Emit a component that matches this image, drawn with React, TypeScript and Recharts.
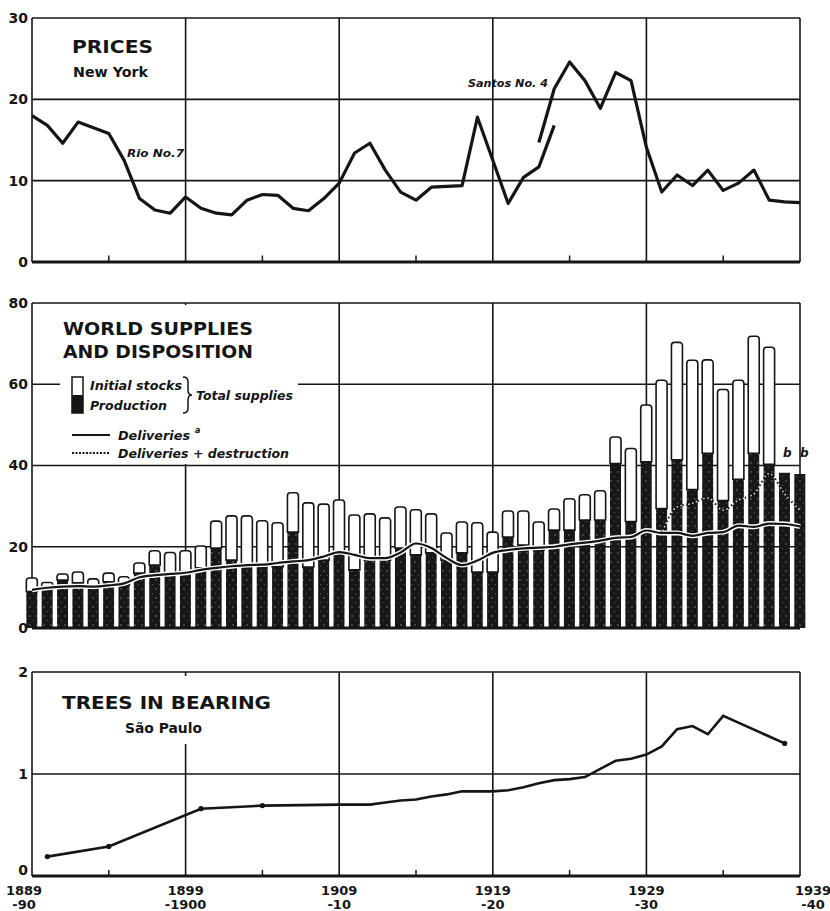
import React from 'react';
import { ComposedChart, Bar, Line, XAxis, YAxis, CartesianGrid, ReferenceLine } from 'recharts';

// crop years 1889-90 … 1939-40 (labelled by first year)
const years = [
  1889, 1890, 1891, 1892, 1893, 1894, 1895, 1896, 1897, 1898,
  1899, 1900, 1901, 1902, 1903, 1904, 1905, 1906, 1907, 1908,
  1909, 1910, 1911, 1912, 1913, 1914, 1915, 1916, 1917, 1918,
  1919, 1920, 1921, 1922, 1923, 1924, 1925, 1926, 1927, 1928,
  1929, 1930, 1931, 1932, 1933, 1934, 1935, 1936, 1937, 1938, 1939,
];

// New York prices, cents per lb
const rioNo7 = [ // 1889–1923
  18.0, 16.8, 14.6, 17.2, 16.5, 15.8, 12.5, 7.8, 6.4, 6.0,
  8.0, 6.6, 6.0, 5.8, 7.6, 8.3, 8.2, 6.6, 6.3, 7.8,
  9.7, 13.4, 14.6, 11.3, 8.6, 7.6, 9.2, 9.3, 9.4, 17.8,
  12.5, 7.2, 10.4, 11.7, 16.8,
];
const santosStart = 1922;
const santosNo4 = [ // 1922–1939
  14.7, 21.3, 24.6, 22.3, 18.9, 23.3, 22.3, 14.1, 8.6, 10.7,
  9.4, 11.3, 8.8, 9.7, 11.3, 7.6, 7.4, 7.3,
];

// world supplies, million bags
const totalSupplies = [
  12.3, 11.2, 13.3, 13.8, 12.1, 13.5, 12.6, 16.0, 19.0, 18.6,
  19.0, 20.2, 26.3, 27.6, 27.6, 26.4, 25.9, 33.3, 30.8, 30.5,
  31.5, 27.8, 28.1, 27.1, 29.8, 29.1, 28.1, 23.4, 26.1, 25.9,
  23.6, 28.8, 28.8, 26.1, 29.3, 31.8, 32.8, 33.8, 47.0, 44.2,
  54.9, 61.0, 70.3, 65.9, 66.0, 58.7, 61.0, 71.8, 69.1, 38.2, 37.9,
];
const production = [
  9.0, 10.2, 11.8, 11.1, 10.1, 11.4, 10.6, 13.5, 15.5, 13.5,
  13.9, 14.8, 19.7, 16.7, 15.5, 15.5, 15.1, 23.6, 15.0, 16.7,
  18.5, 14.3, 16.7, 16.7, 19.7, 18.0, 18.5, 16.7, 18.5, 13.8,
  13.8, 22.4, 20.4, 19.2, 24.1, 24.1, 26.6, 26.6, 40.5, 26.2,
  40.9, 29.4, 41.4, 34.1, 43.0, 31.4, 36.6, 43.0, 40.3, 38.2, 37.9,
];
const deliveries = [
  9.4, 9.9, 10.2, 10.3, 10.2, 10.5, 11.0, 12.5, 13.0, 13.3,
  13.6, 14.3, 14.8, 15.2, 15.5, 15.6, 16.0, 16.4, 16.7, 17.6,
  18.7, 18.0, 17.2, 17.2, 18.6, 20.8, 19.7, 17.2, 15.5, 16.6,
  18.5, 19.2, 19.6, 19.8, 20.0, 20.6, 21.0, 21.5, 22.2, 22.4,
  24.0, 23.4, 23.4, 22.7, 23.4, 23.6, 25.2, 24.9, 25.7, 25.6, 25.0,
];
const destructionStart = 1930;
const deliveriesPlusDestruction = [ // 1930–1939
  23.4, 29.8, 30.7, 32.0, 29.0, 31.5, 33.0, 38.0, 33.0, 29.0,
];

// São Paulo trees in bearing, billions
const treeYears = [
  1890, 1894, 1900, 1904, 1909, 1910, 1911, 1912, 1913, 1914,
  1915, 1916, 1917, 1918, 1919, 1920, 1921, 1922, 1923, 1924,
  1925, 1926, 1927, 1928, 1929, 1930, 1931, 1932, 1933, 1934, 1938,
];
const treesInBearing = [
  0.19, 0.29, 0.66, 0.69, 0.70, 0.70, 0.70, 0.72, 0.74, 0.75,
  0.78, 0.80, 0.83, 0.83, 0.83, 0.84, 0.87, 0.91, 0.94, 0.95,
  0.97, 1.05, 1.13, 1.15, 1.19, 1.27, 1.44, 1.47, 1.39, 1.57, 1.30,
];
const treeMarkers = [1890, 1894, 1900, 1904, 1938];

const gridYears = [1889, 1899, 1909, 1919, 1929, 1939];
const minorYears = [1894, 1904, 1914, 1924, 1934];
const yearLabelTop = ['1889', '1899', '1909', '1919', '1929', '1939'];
const yearLabelBottom = ['-90', '-1900', '-10', '-20', '-30', '-40'];

const rows = years.map((year, i) => {
  const s = year - santosStart;
  const d = year - destructionStart;
  const t = treeYears.indexOf(year);
  const stocks = totalSupplies[i] - production[i];
  return {
    year,
    rio: i < rioNo7.length ? rioNo7[i] : null,
    santos: s >= 0 ? santosNo4[s] : null,
    production: production[i],
    stocks: stocks > 0.05 ? stocks : null,
    deliveries: deliveries[i],
    delDest: d >= 0 ? deliveriesPlusDestruction[d] : null,
    trees: t >= 0 ? treesInBearing[t] : null,
  };
});

const F = "'DejaVu Sans', sans-serif";
const INK = '#151515';

// value labels on both sides; zeroLift nudges the "0" up where it would crowd the year labels
const makeYTick = (anchor: 'start' | 'end', zeroLift: number) => (props: any) => {
  const { x, y, payload } = props;
  const lift = payload.value === 0 ? zeroLift : 0;
  return (
    <text x={x} y={y + lift} dy="0.355em" textAnchor={anchor} fontSize={14} fontWeight="bold"
      fontFamily={F} fill={INK}>{payload.value}</text>
  );
};

const yAxes = (max: number, ticks: number[], zeroLift = 0) => [
  <YAxis key="l" domain={[0, max]} ticks={ticks} width={32} axisLine={false} tickLine={false}
    tickSize={2} tickMargin={2} tick={makeYTick('end', zeroLift)} interval={0} />,
  <YAxis key="r" yAxisId="r" orientation="right" domain={[0, max]} ticks={ticks} width={30}
    axisLine={false} tickLine={false} tickSize={2} tickMargin={6} tick={makeYTick('start', zeroLift)} interval={0} />,
];

const frame = (ticks: number[]) => (
  <CartesianGrid stroke={INK} strokeWidth={1.6} fill="none"
    horizontalValues={ticks} verticalValues={gridYears} />
);

const minorMarks = (h: number) =>
  minorYears.map((yr) => (
    <ReferenceLine key={'m' + yr} segment={[{ x: yr, y: 0 }, { x: yr, y: h }]} stroke={INK} strokeWidth={1.5} />
  ));

const renderYearTick = (props: any) => {
  const { x, y, payload } = props;
  const idx = gridYears.indexOf(payload.value);
  const shift = idx === 0 ? -8 : idx === gridYears.length - 1 ? 13 : 0;
  return (
    <g transform={`translate(${x + shift},${y})`}>
      <text textAnchor="middle" y={19} fontSize={13} fontWeight="bold" fontFamily={F} fill={INK}>{yearLabelTop[idx]}</text>
      <text textAnchor="middle" y={33} fontSize={13} fontWeight="bold" fontFamily={F} fill={INK}>{yearLabelBottom[idx]}</text>
    </g>
  );
};

const renderTreeDot = (p: any) => {
  if (p.payload && treeMarkers.includes(p.payload.year) && p.value != null) {
    return <circle key={'d' + p.index} cx={p.cx} cy={p.cy} r={2.6} fill={INK} />;
  }
  return <g key={'d' + p.index} />;
};

const txt = { fontFamily: F, fontWeight: 'bold' as const, fill: INK };
const ital = { ...txt, fontStyle: 'italic' as const };

export default function App() {
  return (
    <div style={{ position: 'absolute', left: 0, top: 0, width: 830, height: 911, background: '#fff' }}>
      {/* PRICES */}
      <div style={{ position: 'absolute', left: 0, top: 0 }}>
        <ComposedChart width={830} height={290} data={rows} margin={{ top: 18, right: 0, bottom: 28, left: 0 }}>
          <XAxis dataKey="year" type="number" domain={[1889, 1939]} hide />
          {yAxes(30, [0, 10, 20, 30])}
          {frame([0, 10, 20, 30])}
          {minorMarks(0.8)}
          <ReferenceLine y={0} stroke={INK} strokeWidth={3} />
          <Line dataKey="rio" stroke={INK} strokeWidth={3.2} dot={false} strokeLinejoin="round" isAnimationActive={false} />
          <Line dataKey="santos" stroke={INK} strokeWidth={3.2} dot={false} strokeLinejoin="round" isAnimationActive={false} />
        </ComposedChart>
      </div>

      {/* WORLD SUPPLIES */}
      <div style={{ position: 'absolute', left: 0, top: 290 }}>
        <ComposedChart width={830} height={350} data={rows} margin={{ top: 13, right: 0, bottom: 12, left: 0 }}>
          <XAxis dataKey="year" type="number" domain={[1889, 1939]} hide />
          {yAxes(80, [0, 20, 40, 60, 80])}
          {frame([0, 20, 40, 60, 80])}
          <Bar dataKey="production" stackId="s" fill="url(#stipple)" barSize={11} isAnimationActive={false} />
          <Bar dataKey="stocks" stackId="s" fill="#fff" stroke={INK} strokeWidth={1.6} barSize={11}
            radius={[3, 3, 0, 0]} isAnimationActive={false} />
          <Line dataKey="deliveries" type="monotone" stroke="#fff" strokeWidth={5} dot={false} isAnimationActive={false} />
          <Line dataKey="deliveries" type="monotone" stroke={INK} strokeWidth={2.2} dot={false} isAnimationActive={false} />
          <Line dataKey="delDest" type="monotone" stroke={INK} strokeWidth={2} strokeDasharray="1.5 2.5" dot={false} isAnimationActive={false} />
          <Line dataKey="delDest" type="monotone" stroke="#e8e8e8" strokeWidth={1.4} strokeDasharray="1.5 2.5"
            strokeDashoffset={2} dot={false} isAnimationActive={false} />
          <ReferenceLine y={0} stroke={INK} strokeWidth={3} />
        </ComposedChart>
      </div>

      {/* TREES IN BEARING */}
      <div style={{ position: 'absolute', left: 0, top: 640 }}>
        <ComposedChart width={830} height={271} data={rows} margin={{ top: 32, right: 0, bottom: 0, left: 0 }}>
          <XAxis dataKey="year" type="number" domain={[1889, 1939]} ticks={gridYears} interval={0}
            height={35} axisLine={false} tickLine={false} tickSize={0} tickMargin={0} tick={renderYearTick} />
          {yAxes(2, [0, 1, 2], -6)}
          {frame([0, 1, 2])}
          {minorMarks(0.06)}
          <ReferenceLine y={0} stroke={INK} strokeWidth={3} />
          <Line dataKey="trees" stroke={INK} strokeWidth={2.6} connectNulls dot={renderTreeDot} isAnimationActive={false} />
        </ComposedChart>
      </div>

      {/* titles, legend, notes */}
      <svg width={830} height={911} style={{ position: 'absolute', left: 0, top: 0, pointerEvents: 'none' }}>
        <defs>
          <pattern id="stipple" width={7} height={9} patternUnits="userSpaceOnUse">
            <rect width={7} height={9} fill="#171717" />
            <circle cx={2} cy={2} r={0.7} fill="#8a8a8a" />
            <circle cx={5.5} cy={6.5} r={0.5} fill="#6a6a6a" />
          </pattern>
        </defs>

        <text x={72} y={53} fontSize={18} textLength={81} lengthAdjust="spacingAndGlyphs" {...txt}>PRICES</text>
        <text x={73} y={77} fontSize={14} textLength={75} lengthAdjust="spacingAndGlyphs" {...txt}>New York</text>
        <text x={127} y={157} fontSize={11} textLength={57} lengthAdjust="spacingAndGlyphs" {...ital}>Rio No.7</text>
        <text x={468} y={87} fontSize={11} textLength={80} lengthAdjust="spacingAndGlyphs" {...ital}>Santos No. 4</text>

        <rect x={60} y={305} width={238} height={159} fill="#fff" />
        <text x={63} y={335} fontSize={17} textLength={190} lengthAdjust="spacingAndGlyphs" {...txt}>WORLD SUPPLIES</text>
        <text x={63} y={358} fontSize={17} textLength={190} lengthAdjust="spacingAndGlyphs" {...txt}>AND DISPOSITION</text>
        <rect x={72} y={377} width={11} height={36} fill="#fff" stroke={INK} strokeWidth={1.5} />
        <rect x={72} y={395} width={11} height={18} fill={INK} />
        <text x={90} y={390} fontSize={12} textLength={92} lengthAdjust="spacingAndGlyphs" {...ital}>Initial stocks</text>
        <text x={90} y={410} fontSize={12} textLength={77} lengthAdjust="spacingAndGlyphs" {...ital}>Production</text>
        <path d="M183,377 q5,0 5,5 v8 q0,5 4,5 q-4,0 -4,5 v8 q0,5 -5,5" fill="none" stroke={INK} strokeWidth={1.5} />
        <text x={196} y={400} fontSize={12} textLength={97} lengthAdjust="spacingAndGlyphs" {...ital}>Total supplies</text>
        <line x1={72} x2={110} y1={435} y2={435} stroke={INK} strokeWidth={2.2} />
        <text x={118} y={440} fontSize={12} textLength={72} lengthAdjust="spacingAndGlyphs" {...ital}>Deliveries</text>
        <text x={195} y={433} fontSize={8} {...ital}>a</text>
        <line x1={72} x2={110} y1={453} y2={453} stroke={INK} strokeWidth={2} strokeDasharray="2 1.5" />
        <text x={118} y={458} fontSize={12} textLength={171} lengthAdjust="spacingAndGlyphs" {...ital}>Deliveries + destruction</text>
        <text x={783} y={457} fontSize={12} {...ital}>b</text>
        <text x={800} y={457} fontSize={12} {...ital}>b</text>

        <rect x={36} y={676} width={254} height={68} fill="#fff" />
        <text x={62} y={709} fontSize={17} textLength={209} lengthAdjust="spacingAndGlyphs" {...txt}>TREES IN BEARING</text>
        <text x={125} y={733} fontSize={14} textLength={77} lengthAdjust="spacingAndGlyphs" {...txt}>São Paulo</text>
      </svg>
    </div>
  );
}
